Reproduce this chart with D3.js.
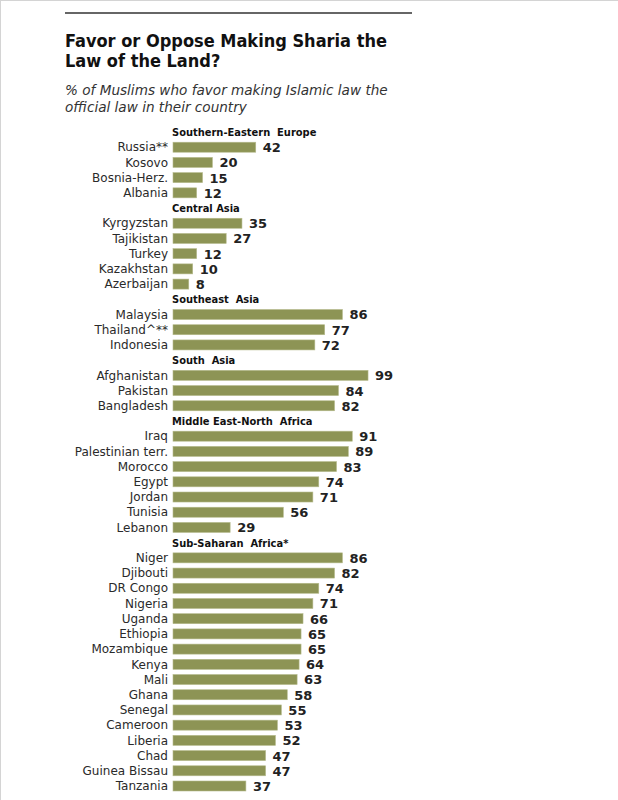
<html>
  <head>
    <title>Favor or Oppose Making Sharia the Law of the Land?</title>
    <script type="text/javascript" src="https://cdn.jsdelivr.net/npm/d3@7/dist/d3.min.js" charset="utf-8"></script>
    <style>
      body { margin: 0; background: #fff; }
      text { white-space: pre; }
    </style>
  </head>
  <body>
    <div id="main"></div>
  <script>
    // regions, in the order they are drawn
    var groups = ['Southern-Eastern  Europe', 'Central Asia', 'Southeast  Asia',
                  'South  Asia', 'Middle East-North  Africa', 'Sub-Saharan  Africa*'];

    var countries = [
      ['Russia**', 'Kosovo', 'Bosnia-Herz.', 'Albania'],
      ['Kyrgyzstan', 'Tajikistan', 'Turkey', 'Kazakhstan', 'Azerbaijan'],
      ['Malaysia', 'Thailand^**', 'Indonesia'],
      ['Afghanistan', 'Pakistan', 'Bangladesh'],
      ['Iraq', 'Palestinian terr.', 'Morocco', 'Egypt', 'Jordan', 'Tunisia', 'Lebanon'],
      ['Niger', 'Djibouti', 'DR Congo', 'Nigeria', 'Uganda', 'Ethiopia', 'Mozambique', 'Kenya',
       'Mali', 'Ghana', 'Senegal', 'Cameroon', 'Liberia', 'Chad', 'Guinea Bissau', 'Tanzania']
    ];

    // % favoring sharia as official law
    var values = [
      [42, 20, 15, 12],
      [35, 27, 12, 10, 8],
      [86, 77, 72],
      [99, 84, 82],
      [91, 89, 83, 74, 71, 56, 29],
      [86, 82, 74, 71, 66, 65, 65, 64, 63, 58, 55, 53, 52, 47, 47, 37]
    ];

    var svgWidth = 618;
    var svgHeight = 800;

    // flatten into rows: a header row for each group, then its countries
    var rows = [];
    groups.forEach(function(g, gi) {
      rows.push({ id: 'h' + gi, type: 'header', label: g });
      countries[gi].forEach(function(c, ci) {
        rows.push({ id: 'r' + gi + '_' + ci, type: 'bar', label: c, value: values[gi][ci] });
      });
    });

    var svg = d3.select('#main')
      .append('svg')
      .attr('width', svgWidth)
      .attr('height', svgHeight)
      .style('font-family', '"DejaVu Sans", Verdana, sans-serif');

    // faint frame on the top and left edge
    svg.append('line').attr('x1', 0.5).attr('x2', 0.5).attr('y1', 0).attr('y2', svgHeight)
      .attr('stroke', '#d4d4d4');
    svg.append('line').attr('x1', 0).attr('x2', svgWidth).attr('y1', 0.5).attr('y2', 0.5)
      .attr('stroke', '#d4d4d4');

    // top rule
    svg.append('line')
      .attr('x1', 65).attr('x2', 412)
      .attr('y1', 13).attr('y2', 13)
      .attr('stroke', '#333').attr('stroke-width', 1.6);

    // title
    var title = svg.append('text')
      .attr('x', 65)
      .attr('font-family', '"DejaVu Sans Condensed", "DejaVu Sans", sans-serif')
      .attr('font-weight', 'bold')
      .attr('font-size', 18)
      .attr('fill', '#111');
    title.append('tspan').attr('x', 65).attr('y', 47).text('Favor or Oppose Making Sharia the');
    title.append('tspan').attr('x', 65).attr('y', 67).text('Law of the Land?');

    // subtitle
    var sub = svg.append('text')
      .attr('font-style', 'italic')
      .attr('font-size', 13.6)
      .attr('fill', '#333');
    sub.append('tspan').attr('x', 65).attr('y', 95).text('% of Muslims who favor making Islamic law the');
    sub.append('tspan').attr('x', 65).attr('y', 112).text('official law in their country');

    var x = d3.scaleLinear()
      .domain([0, 100])
      .range([173, 370]);

    var y = d3.scaleBand()
      .domain(rows.map(function(d) { return d.id; }))
      .range([124.4, 793.6])
      .padding(0);

    var barH = 10;

    var row = svg.selectAll('g.row')
      .data(rows)
      .enter()
      .append('g')
      .attr('class', 'row')
      .attr('transform', function(d) { return 'translate(0,' + (y(d.id) + y.bandwidth() / 2) + ')'; });

    // group headers
    row.filter(function(d) { return d.type === 'header'; })
      .append('text')
      .attr('x', 172)
      .attr('dy', '0.35em')
      .attr('font-family', '"DejaVu Sans Condensed", "DejaVu Sans", sans-serif')
      .attr('font-weight', 'bold')
      .attr('font-size', 11)
      .attr('fill', '#111')
      .text(function(d) { return d.label; });

    var bars = row.filter(function(d) { return d.type === 'bar'; });

    bars.append('text')
      .attr('x', 168)
      .attr('dy', '0.35em')
      .attr('text-anchor', 'end')
      .attr('font-size', 12)
      .attr('fill', '#2a2a2a')
      .text(function(d) { return d.label; });

    bars.append('rect')
      .attr('x', x(0))
      .attr('y', -barH / 2)
      .attr('height', barH)
      .attr('width', function(d) { return x(d.value) - x(0); })
      .attr('fill', '#8d9455')
      .attr('stroke', '#b5ba8c')
      .attr('stroke-width', 0.6);

    bars.append('text')
      .attr('x', function(d) { return x(d.value) + 7; })
      .attr('dy', '0.38em')
      .attr('font-weight', 'bold')
      .attr('font-size', 13)
      .attr('fill', '#222')
      .text(function(d) { return d.value; });
  </script>
  </body>
</html>
